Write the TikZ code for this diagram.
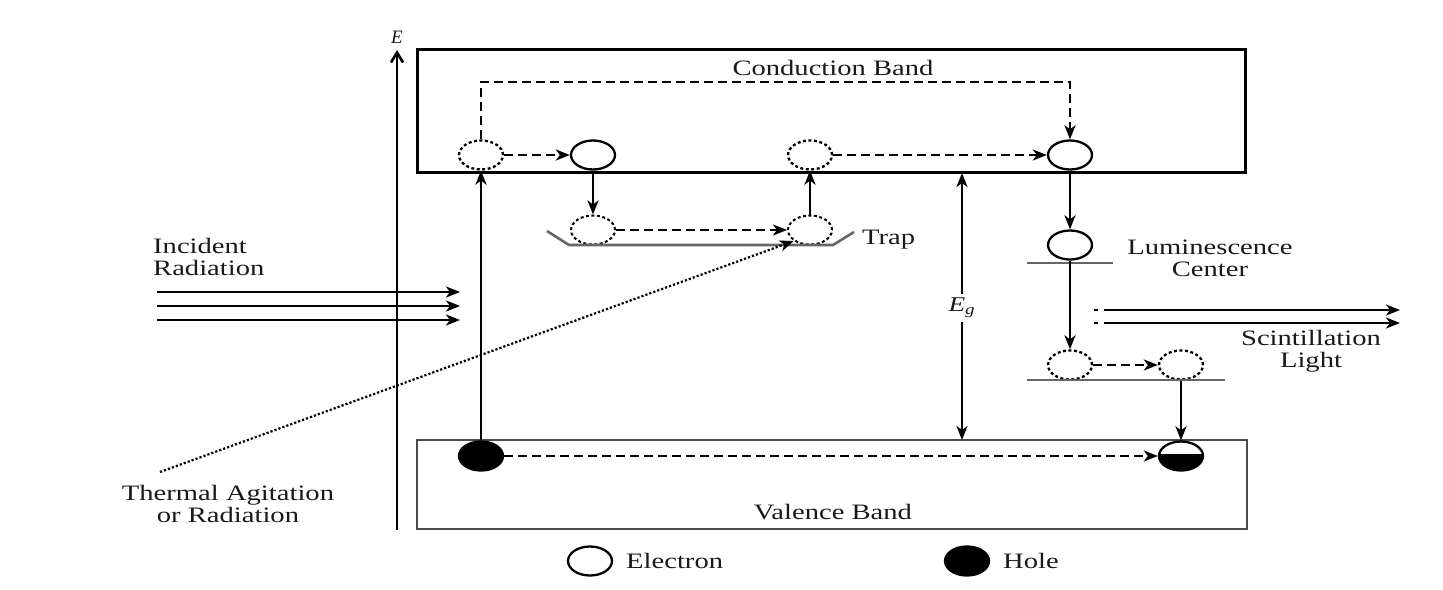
\documentclass[tikz,border=0pt]{standalone}
\usepackage{fontspec}
\setmainfont{Liberation Serif}
\usepackage{graphicx}
\usetikzlibrary{shapes.geometric,arrows.meta}
\newcommand{\sx}[1]{\scalebox{1.3}[1]{#1}}
\begin{document}
\begin{tikzpicture}[x=1pt,y=-1pt,
  band/.style={draw,line width=3pt},
  el/.style={ellipse,draw,line width=2.3pt,minimum width=44pt,minimum height=29pt,inner sep=0pt},
  eld/.style={el,dash pattern=on 3pt off 2.5pt},
  elf/.style={el,fill=black},
  arr/.style={line width=2.6pt,-{Stealth[length=14pt,width=11pt,inset=4pt]}},
  darr/.style={arr,dash pattern=on 9pt off 5pt},
  lvl/.style={line width=2.6pt,draw=black!60},
  lbl/.style={font=\fontsize{22}{24}\selectfont,inner sep=0pt,text=black!90},
]
\useasboundingbox (0,0) rectangle (1443,589);
% axis
\coordinate (ax0) at (397,530);
\coordinate (ax1) at (397,50);
\draw[line width=2.6pt,-{Straight Barb[length=10pt,width=12pt]}] (ax0) -- (ax1);
\node[lbl,font=\fontsize{19}{20}\selectfont\itshape] (E) at (397,37) {E};
% bands
\node[band,minimum width=828pt,minimum height=123pt,inner sep=0pt] (cb) at (831,110.5) {};
\node[band,draw=black!70,line width=2.6pt,minimum width=830pt,minimum height=89pt,inner sep=0pt] (vb) at (832,484.5) {};
\node[lbl] (cbl) at (833,68) {\sx{Conduction Band}};
\node[lbl] (vbl) at (833,512) {\sx{Valence Band}};
% conduction band electrons
\node[eld] (c1) at (481,155) {};
\node[el] (c2) at (593,155) {};
\node[eld] (c3) at (810,155) {};
\node[el] (c4) at (1070,155) {};
\coordinate (tl) at (481,82);
\coordinate (tr) at (1070,82);
\draw[darr] (c1.north) -- (tl) -- (tr) -- (c4.north);
\draw[darr] (c1) -- (c2);
\draw[darr] (c3) -- (c4);
% trap
\node[eld,line width=2pt] (t1) at (593,230) {};
\node[eld,line width=2pt] (t2) at (810,230) {};
\coordinate (tp1) at (547,231);
\coordinate (tp2) at (569,245);
\coordinate (tp3) at (833,245);
\coordinate (tp4) at (854,232);
\draw[lvl] (tp1) -- (tp2) -- (tp3) -- (tp4);
\node[lbl,anchor=west] (trap) at (862,240) {\sx{Trap}};
\draw[arr] (c2) -- (t1);
\draw[darr] (t1) -- (t2);
\draw[arr] (t2) -- (c3);
% hole and excitation
\node[elf] (hole) at (481,456) {};
\draw[arr] (hole) -- (c1);
% final recombination
\node[el] (fin) at (1181,456) {};
\begin{scope}
  \clip (1155,454) rectangle (1207,475);
  \fill (fin.center) ellipse [x radius=22pt,y radius=14.5pt];
\end{scope}
\draw[darr] (hole) -- (fin);
% band gap
\coordinate (egt) at (962,173);
\coordinate (egb) at (962,440);
\draw[line width=2.6pt,{Stealth[length=14pt,width=11pt,inset=4pt]}-{Stealth[length=14pt,width=11pt,inset=4pt]}] (egt) -- (egb);
\node[lbl,fill=white,inner sep=4pt,font=\fontsize{21}{22}\selectfont\itshape] (eg) at (962,308) {\sx{E\textsubscript{g}}};
% luminescence center
\node[el] (l1) at (1070,245) {};
\draw[lvl] (1027,263) -- (1113,263);
\node[lbl,align=center] (lcl) at (1210,258) {\sx{Luminescence}\\[-2pt]\sx{Center}};
\draw[arr] (c4) -- (l1);
\node[eld] (l2) at (1070,365) {};
\node[eld] (l3) at (1181,365) {};
\draw[lvl] (1027,380) -- (1225,380);
\draw[arr] (l1) -- (l2);
\draw[darr] (l2) -- (l3);
\draw[arr] (l3) -- (fin);
% scintillation light
\coordinate (s1a) at (1094,310);
\coordinate (s1b) at (1400,310);
\coordinate (s2a) at (1094,323);
\coordinate (s2b) at (1400,323);
\draw[arr,dash pattern=on 4pt off 6pt on 1000pt] (s1a) -- (s1b);
\draw[arr,dash pattern=on 4pt off 6pt on 1000pt] (s2a) -- (s2b);
\node[lbl,align=center] (scl) at (1311,351) {\sx{Scintillation}\\[-2pt]\sx{Light}};
% incident radiation
\foreach \y/\n in {292/a,306/b,320/c}{
  \coordinate (ir\n0) at (157,\y);
  \coordinate (ir\n1) at (460,\y);
  \draw[arr] (ir\n0) -- (ir\n1);
}
\node[lbl,align=left,anchor=north west] (irl) at (153,238) {\sx{Incident}\\[-2pt]\sx{Radiation}};
% thermal agitation
\coordinate (th0) at (160,472);
\draw[line width=2.2pt,dotted,-{Stealth[length=14pt,width=11pt,inset=4pt]}] (th0) -- (t2.south west);
\node[lbl,align=center] (thl) at (228,504) {\sx{Thermal Agitation}\\[-2pt]\sx{or Radiation}};
% legend
\node[el] (lge) at (590,561) {};
\node[lbl,anchor=west] (lgel) at (626,561) {\sx{Electron}};
\node[elf] (lgh) at (967,561) {};
\node[lbl,anchor=west] (lghl) at (1003,561) {\sx{Hole}};
\end{tikzpicture}
\end{document}
